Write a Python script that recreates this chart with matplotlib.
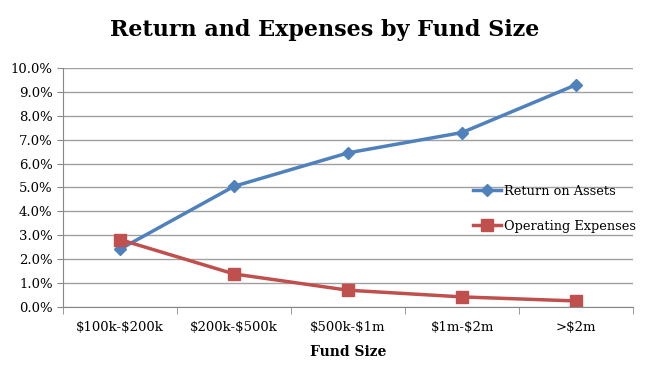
import numpy as np
import matplotlib
matplotlib.use('Agg')
import matplotlib.pyplot as plt
from matplotlib import ticker

# data
categories = ['$100k-$200k', '$200k-$500k', '$500k-$1m', '$1m-$2m', '>$2m']
return_on_assets = [2.42, 5.05, 6.45, 7.3, 9.3]
operating_expenses = [2.82, 1.38, 0.7, 0.42, 0.25]

plt.rcParams['font.family'] = ['DejaVu Serif']
plt.rcParams['text.parse_math'] = False

fig = plt.figure(figsize=(6.5, 3.78), dpi=100)
ax = fig.add_axes([0.097, 0.188, 0.877, 0.632])

x = np.arange(len(categories))
ax.plot(x, return_on_assets, color='#4F81BD', lw=2.5, marker='D', ms=6,
        label='Return on Assets')
ax.plot(x, operating_expenses, color='#C0504D', lw=2.5, marker='s', ms=8,
        label='Operating Expenses')

ax.set_xlim(-0.5, len(categories) - 0.5)
ax.set_ylim(0, 10)
ax.yaxis.set_major_locator(ticker.MultipleLocator(1))
ax.yaxis.set_major_formatter(ticker.FuncFormatter(lambda v, p: '%.1f%%' % v))
ax.set_xticks(x)
ax.set_xticklabels(categories)
ax.set_xticks(np.arange(-0.5, len(categories)), minor=True)
ax.tick_params(axis='x', which='major', length=0, pad=10, labelsize=9.5)
ax.tick_params(axis='x', which='minor', length=5, color='#888888')
ax.tick_params(axis='y', length=4, color='#888888', labelsize=9.5)

ax.grid(axis='y', color='#a0a0a0', lw=1)
ax.set_axisbelow(True)
for s in ['top', 'right']:
    ax.spines[s].set_visible(False)
ax.spines['left'].set_color('#888888')
ax.spines['bottom'].set_color('#888888')

ax.set_xlabel('Fund Size', fontweight='bold', fontsize=10, labelpad=8)
fig.suptitle('Return and Expenses by Fund Size', fontweight='bold', fontsize=16, y=0.95)

ax.legend(loc='center right', bbox_to_anchor=(1.025, 0.41), frameon=False,
          fontsize=9.3, handlelength=2.2, labelspacing=1.7, handletextpad=0.2)

plt.savefig('out.png', dpi=100)
